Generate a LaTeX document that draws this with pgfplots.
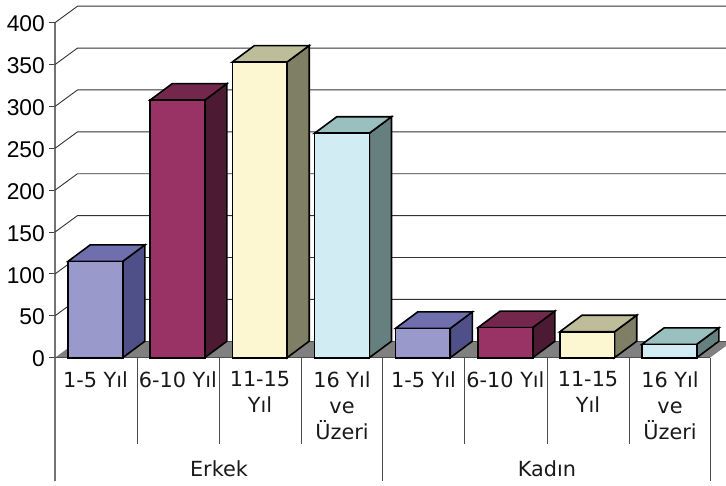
\documentclass[border=0pt]{standalone}
\usepackage{pgfplots}
\usepackage{fontspec}
\pgfplotsset{compat=1.18}
\setmainfont{Liberation Sans}
\newfontfamily\catfont{DejaVu Sans}
\definecolor{fa}{HTML}{9999CC}\definecolor{ta}{HTML}{6F6FAE}\definecolor{sa}{HTML}{4F5088}
\definecolor{fb}{HTML}{993366}\definecolor{tb}{HTML}{73274D}\definecolor{sb}{HTML}{4D1A33}
\definecolor{fc}{HTML}{FCF7D0}\definecolor{tc}{HTML}{BDBD99}\definecolor{sc}{HTML}{7F7F66}
\definecolor{fd}{HTML}{D2ECF4}\definecolor{td}{HTML}{99BFBF}\definecolor{sd}{HTML}{668080}
\tikzset{
  bf/.style={draw=black, line width=1.6pt, line join=miter, mark=none},
  gl/.style={draw=black!80, line width=0.9pt, mark=none},
  sep/.style={draw=black!70, line width=1pt, mark=none},
  cat/.style={font=\catfont\fontsize{20.8}{25.9}\selectfont, align=center, anchor=north, inner sep=0pt, text=black!90},
}
\newcommand\barthree[5]{%
  \pgfmathsetmacro\xa{#1}\pgfmathsetmacro\xb{#1+54.7}%
  \pgfmathsetmacro\xc{#1+76.9}\pgfmathsetmacro\xd{#1+22.2}%
  \pgfmathsetmacro\yt{#2+19.7}\pgfmathsetmacro\yf{19.7}%
  \edef\temp{%
    \noexpand\addplot[bf,forget plot,fill=#5] coordinates {(\xb,0)(\xc,\yf)(\xc,\yt)(\xb,#2)} --cycle;
    \noexpand\addplot[bf,forget plot,fill=#4] coordinates {(\xa,#2)(\xb,#2)(\xc,\yt)(\xd,\yt)} --cycle;
    \noexpand\addplot[bf,forget plot,fill=#3] coordinates {(\xa,0)(\xb,0)(\xb,#2)(\xa,#2)} --cycle;
  }\temp}
\newcommand\gridl[1]{%
  \pgfmathsetmacro\yt{#1+19.7}%
  \edef\temp{\noexpand\addplot[gl,forget plot] coordinates {(55,#1)(77.5,\yt)(726,\yt)};}\temp}
\begin{document}
\begin{tikzpicture}
\path[use as bounding box] (0,0) rectangle (726pt,485pt);
\begin{axis}[
  at={(55pt,4pt)}, anchor=south west,
  scale only axis, width=671pt, height=458.3pt,
  xmin=55, xmax=726, ymin=-147.2, ymax=400,
  clip=false,
  axis y line=left, axis x line=none,
  axis line style={-, draw=black!55, line width=1.1pt},
  ytick={0,50,100,150,200,250,300,350,400},
  tick align=outside, major tick length=6pt,
  y tick style={draw=black!75, line width=1pt},
  tick label style={font=\fontsize{22.8}{24}\selectfont},
  /pgf/number format/assume math mode=true,
  y tick label style={inner sep=0pt, xshift=-4pt, yshift=-1.2pt},
]
% walls
\gridl{50}\gridl{100}\gridl{150}\gridl{200}\gridl{250}\gridl{300}\gridl{350}\gridl{400}
% floor
\addplot[draw=none, fill=black!50, forget plot] coordinates {(55,0)(710,0)(726,14)(726,19.7)(77.5,19.7)} --cycle;
\addplot[draw=black!70, line width=0.7pt, forget plot] coordinates {(77.5,19.7)(726,19.7)};
% separators
\addplot[sep,forget plot] coordinates {(55,0)(710,0)};
\addplot[sep,forget plot] coordinates {(137.5,0)(137.5,-102.7)};
\addplot[sep,forget plot] coordinates {(219.7,0)(219.7,-102.7)};
\addplot[sep,forget plot] coordinates {(301.5,0)(301.5,-102.7)};
\addplot[sep,forget plot] coordinates {(382.5,0)(382.5,-147.2)};
\addplot[sep,forget plot] coordinates {(464.5,0)(464.5,-102.7)};
\addplot[sep,forget plot] coordinates {(547,0)(547,-102.7)};
\addplot[sep,forget plot] coordinates {(629,0)(629,-102.7)};
\addplot[sep,forget plot] coordinates {(710,0)(710,-147.2)};
% bars
\barthree{68}{115}{fa}{ta}{sa}
\barthree{150}{307.5}{fb}{tb}{sb}
\barthree{232.3}{353}{fc}{tc}{sc}
\barthree{314.6}{268}{fd}{td}{sd}
\barthree{395.5}{35}{fa}{ta}{sa}
\barthree{478}{36}{fb}{tb}{sb}
\barthree{559.8}{31}{fc}{tc}{sc}
\barthree{642}{16}{fd}{td}{sd}
% category labels
\node[cat] at (axis cs:95.5,-16.4) {1-5 Yıl};
\node[cat] at (axis cs:178,-16.4) {6-10 Yıl};
\node[cat] at (axis cs:260,-16.4) {11-15\\Yıl};
\node[cat] at (axis cs:342,-16.4) {16 Yıl\\ve\\Üzeri};
\node[cat] at (axis cs:423.5,-16.4) {1-5 Yıl};
\node[cat] at (axis cs:505.5,-16.4) {6-10 Yıl};
\node[cat] at (axis cs:588,-16.4) {11-15\\Yıl};
\node[cat] at (axis cs:670,-16.4) {16 Yıl\\ve\\Üzeri};
\node[cat] at (axis cs:219,-122.5) {Erkek};
\node[cat] at (axis cs:547,-122.5) {Kadın};
\end{axis}
\end{tikzpicture}
\end{document}
